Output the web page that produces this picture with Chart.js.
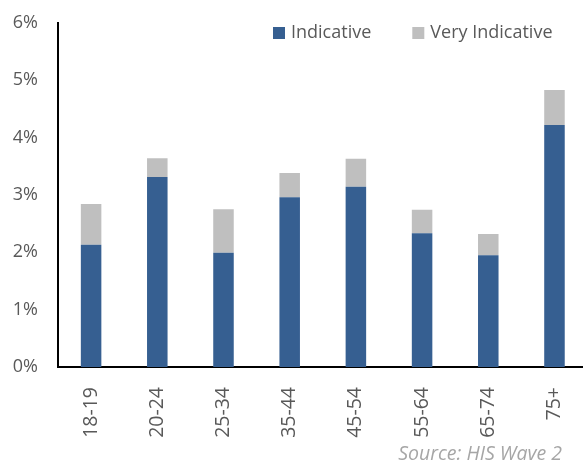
<!DOCTYPE html>
<html>
<head>
<meta charset="utf-8">
<script src="https://cdn.jsdelivr.net/npm/chart.js@4"></script>
<style>
  html, body { margin: 0; padding: 0; background: #fff; overflow: hidden; }
  #wrap { width: 583px; height: 463px; overflow: hidden; }
</style>
</head>
<body>
<div id="wrap"><canvas id="chart" width="590" height="463"></canvas></div>
<script>
// Data
const categories = ['18-19', '20-24', '25-34', '35-44', '45-54', '55-64', '65-74', '75+'];
const indicative = [2.13, 3.31, 1.99, 2.96, 3.14, 2.33, 1.95, 4.22];
const veryIndicative = [0.71, 0.33, 0.76, 0.42, 0.49, 0.41, 0.37, 0.61];
const yMax = 6;
const sourceNote = 'Source: HIS Wave 2';

const FONT = '"Open Sans", sans-serif';
const TEXT = '#595959';

// Legend drawn inside the plot, top right
const legendInside = {
    id: 'legendInside',
    afterDraw(chart) {
        const ctx = chart.ctx;
        ctx.save();
        ctx.font = '18px ' + FONT;
        ctx.textBaseline = 'middle';
        let x = 273;
        const y = 33;
        chart.data.datasets.forEach(ds => {
            ctx.fillStyle = ds.backgroundColor;
            ctx.fillRect(x, y - 6, 12, 12);
            ctx.fillStyle = TEXT;
            ctx.fillText(ds.label, x + 18, y);
            x += 18 + ctx.measureText(ds.label).width + 41;
        });
        ctx.restore();
    }
};

// Source note at bottom right
const sourcePlugin = {
    id: 'sourcePlugin',
    afterDraw(chart) {
        const ctx = chart.ctx;
        ctx.save();
        ctx.font = 'italic 19.5px ' + FONT;
        ctx.fillStyle = '#A6A6A6';
        ctx.textAlign = 'right';
        ctx.textBaseline = 'middle';
        ctx.fillText(sourceNote, 562, 454);
        ctx.restore();
    }
};

new Chart(document.getElementById('chart').getContext('2d'), {
    type: 'bar',
    data: {
        labels: categories,
        datasets: [{
            label: 'Indicative',
            data: indicative,
            backgroundColor: '#365F91',
            barPercentage: 0.31,
            categoryPercentage: 1
        }, {
            label: 'Very Indicative',
            data: veryIndicative,
            backgroundColor: '#BFBFBF',
            barPercentage: 0.31,
            categoryPercentage: 1
        }]
    },
    options: {
        responsive: false,
        animation: false,
        layout: { padding: { top: 16, right: 2, left: 0, bottom: 0 } },
        plugins: {
            legend: { display: false },
            tooltip: { enabled: false }
        },
        scales: {
            x: {
                stacked: true,
                grid: { display: false },
                border: { color: '#000', width: 2 },
                ticks: {
                    color: TEXT,
                    font: { family: FONT, size: 19.5 },
                    minRotation: 90,
                    maxRotation: 90,
                    padding: 12
                },
                afterFit(scale) { scale.height = 96; }
            },
            y: {
                stacked: true,
                min: 0,
                max: yMax,
                grid: { display: false },
                border: { color: '#000', width: 2 },
                ticks: {
                    stepSize: 1,
                    color: TEXT,
                    font: { family: FONT, size: 18 },
                    padding: 12,
                    callback: v => v + '%'
                },
                afterFit(scale) { scale.width = 58; }
            }
        }
    },
    plugins: [legendInside, sourcePlugin]
});
</script>
</body>
</html>
